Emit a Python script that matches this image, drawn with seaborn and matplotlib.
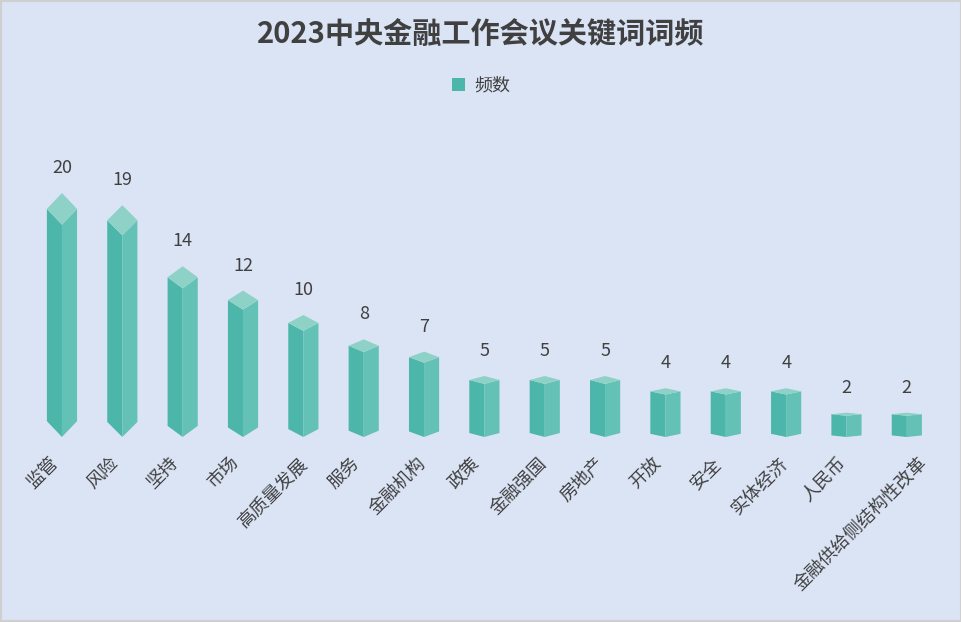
import matplotlib
matplotlib.use('Agg')
import matplotlib.pyplot as plt
import seaborn as sns
import pandas as pd
from matplotlib.patches import Polygon, Patch, Rectangle
from matplotlib.transforms import ScaledTranslation

categories = ['监管', '风险', '坚持', '市场', '高质量发展', '服务', '金融机构', '政策',
              '金融强国', '房地产', '开放', '安全', '实体经济', '人民币', '金融供给侧结构性改革']
counts = [20, 19, 14, 12, 10, 8, 7, 5, 5, 5, 4, 4, 4, 2, 2]
series_name = '频数'
title = '2023中央金融工作会议关键词词频'

bg = '#DBE4F5'
left_c = '#4DB6AA'
right_c = '#64C1B5'
top_c = '#8ED2C7'
text_c = '#404040'

sns.set_theme(style='white')
plt.rcParams['font.family'] = ['Noto Sans CJK SC', 'DejaVu Sans']

W, H = 962, 622
fig = plt.figure(figsize=(W / 100, H / 100), dpi=100, facecolor=bg)
base_px, top_px = 437, 130
ax = fig.add_axes([31.8 / W, (H - base_px) / H, (937 - 31.8) / W, (base_px - top_px) / H])
ax.set_facecolor(bg)

df = pd.DataFrame({'关键词': categories, series_name: counts})
sns.barplot(data=df, x='关键词', y=series_name, ax=ax, width=0.5, color=left_c)

for p in list(ax.patches):
    x0, w, h = p.get_x(), p.get_width(), p.get_height()
    p.set_visible(False)
    xc = x0 + w / 2
    d = 0.065 * h
    ax.add_patch(Polygon([(x0, d), (xc, 0), (xc, h - 2 * d), (x0, h - d)],
                         closed=True, facecolor=left_c, edgecolor='none'))
    ax.add_patch(Polygon([(xc, 0), (x0 + w, d), (x0 + w, h - d), (xc, h - 2 * d)],
                         closed=True, facecolor=right_c, edgecolor='none'))
    ax.add_patch(Polygon([(x0, h - d), (xc, h - 2 * d), (x0 + w, h - d), (xc, h)],
                         closed=True, facecolor=top_c, edgecolor='none'))
    ax.annotate(f'{h:g}', (xc, h), xytext=(0, 18), textcoords='offset points',
                ha='center', va='center', fontsize=13, color=text_c)

ax.set_xlim(-0.5, len(categories) - 0.5)
ax.set_ylim(0, (base_px - top_px) / 12.2)
ax.set_xticks(range(len(categories)))
ax.set_xticklabels(categories, rotation=45, ha='right', va='center',
                   rotation_mode='anchor', fontsize=13, color=text_c)
ax.tick_params(axis='x', length=0, pad=17)
for lab in ax.get_xticklabels():
    n = len(lab.get_text())
    dx = -7 + 3 * (n - 2)
    lab.set_transform(lab.get_transform() + ScaledTranslation(dx / 100, 0, fig.dpi_scale_trans))
ax.set_yticks([])
ax.set_xlabel('')
ax.set_ylabel('')
for s in ax.spines.values():
    s.set_visible(False)

fig.text(0.5, 1 - 35 / H, title, ha='center', va='center', fontsize=21,
         fontweight='bold', color=text_c)
fig.legend(handles=[Patch(facecolor=left_c, edgecolor='none', label=series_name)],
           loc='center', bbox_to_anchor=(0.5, 1 - 86 / H), frameon=False,
           fontsize=13, handlelength=0.7, handleheight=0.7, handletextpad=0.5,
           labelcolor=text_c)
fig.patches.append(Rectangle((0, 0), 1, 1, transform=fig.transFigure, fill=False,
                             edgecolor='#CFCFCF', linewidth=3))

fig.savefig('out.png', dpi=100, facecolor=bg)
